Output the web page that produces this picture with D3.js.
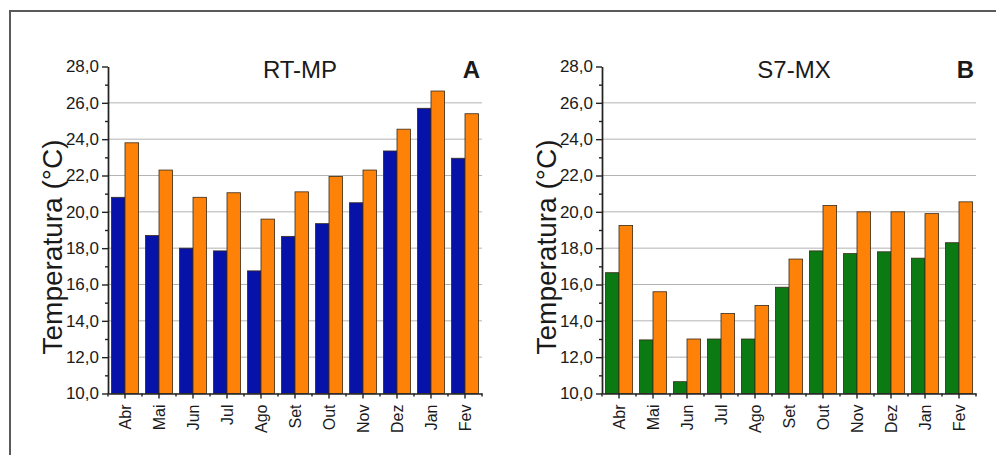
<!DOCTYPE html>
<html>
<head>
<meta charset="utf-8">
<script src="https://cdn.jsdelivr.net/npm/d3@7"></script>
<style>
  body { margin: 0; background: #fff; }
  svg text { font-family: "Liberation Sans", Arial, sans-serif; fill: #1a1a1a; }
  .axis path, .axis line { stroke: #222; stroke-width: 1.4; }
</style>
</head>
<body>
<div class="chart"></div>
<script>
var w = 996,
  h = 455;

// months on the x axis
var months = ['Abr', 'Mai', 'Jun', 'Jul', 'Ago', 'Set', 'Out', 'Nov', 'Dez', 'Jan', 'Fev'];

// RT-MP (panel A)
var rtmpLow = [20.8, 18.7, 18.0, 17.85, 16.75, 18.65, 19.35, 20.5, 23.35, 25.7, 22.95];
var rtmpHigh = [23.8, 22.3, 20.8, 21.05, 19.6, 21.1, 21.95, 22.3, 24.55, 26.65, 25.4];

// S7-MX (panel B)
var s7Low = [16.65, 12.95, 10.65, 13.0, 13.0, 15.85, 17.85, 17.7, 17.8, 17.45, 18.3];
var s7High = [19.25, 15.6, 13.0, 14.4, 14.85, 17.4, 20.35, 20.0, 20.0, 19.9, 20.55];

// y ticks
var yTicks = [10, 12, 14, 16, 18, 20, 22, 24, 26, 28];
var yMinorTicks = [11, 13, 15, 17, 19, 21, 23, 25, 27];

var orange = '#ff8208';

// portuguese number format, comma as decimal mark
var fmt = d3.formatLocale({ decimal: ',', thousands: '.', grouping: [3], currency: ['', ''] }).format('.1f');

var svg = d3.select('.chart')
  .append('svg')
  .attr('width', w)
  .attr('height', h);

// outer frame (cut at right and bottom like the figure)
svg.append('rect')
  .attr('x', 10)
  .attr('y', 11)
  .attr('width', 1000)
  .attr('height', 460)
  .attr('fill', 'none')
  .attr('stroke', '#5a5a5a')
  .attr('stroke-width', 2);

var drawPanel = function (left, title, letter, low, high, lowColor) {
  var pw = 374,
    top = 66.5,
    bottom = 393.5;

  var x = d3.scaleBand()
    .domain(months)
    .range([left, left + pw])
    .paddingInner(0.2)
    .paddingOuter(0.1);

  var xSub = d3.scaleBand()
    .domain(['low', 'high'])
    .range([0, x.bandwidth()]);

  var y = d3.scaleLinear()
    .domain([10, 28])
    .range([bottom, top]);

  var g = svg.append('g');

  // grid lines
  g.selectAll('line.grid')
    .data(yTicks.slice(1, -1))
    .enter()
    .append('line')
    .attr('class', 'grid')
    .attr('x1', left)
    .attr('x2', left + pw)
    .attr('y1', function (d) { return y(d); })
    .attr('y2', function (d) { return y(d); })
    .attr('stroke', '#b4b4b4')
    .attr('stroke-width', 1);

  var rows = months.map(function (m, i) {
    return { month: m, low: low[i], high: high[i] };
  });

  var groups = g.selectAll('g.month')
    .data(rows)
    .enter()
    .append('g')
    .attr('class', 'month')
    .attr('transform', function (d) { return 'translate(' + x(d.month) + ',0)'; });

  groups.selectAll('rect')
    .data(function (d) {
      return [{ key: 'low', v: d.low, c: lowColor }, { key: 'high', v: d.high, c: orange }];
    })
    .enter()
    .append('rect')
    .attr('x', function (d) { return xSub(d.key); })
    .attr('width', xSub.bandwidth())
    .attr('y', function (d) { return y(d.v); })
    .attr('height', function (d) { return y(10) - y(d.v); })
    .attr('fill', function (d) { return d.c; })
    .attr('stroke', '#3a2a1a')
    .attr('stroke-width', 0.8);

  // y axis, major + minor ticks
  g.append('g')
    .attr('class', 'axis')
    .attr('transform', 'translate(' + left + ',0)')
    .call(d3.axisLeft(y).tickValues(yMinorTicks).tickSize(3).tickSizeOuter(0).tickFormat(''));

  var yAxis = g.append('g')
    .attr('class', 'axis')
    .attr('transform', 'translate(' + left + ',0)')
    .call(d3.axisLeft(y).tickValues(yTicks).tickFormat(fmt).tickSize(6).tickSizeOuter(0).tickPadding(3));
  yAxis.selectAll('text')
    .style('font-size', '17px')
    .attr('fill', '#1a1a1a');

  // x axis
  var xAxis = g.append('g')
    .attr('class', 'axis')
    .attr('transform', 'translate(0,' + bottom + ')')
    .call(d3.axisBottom(x).tickSize(5).tickSizeOuter(0));
  xAxis.selectAll('text')
    .attr('transform', 'rotate(-90)')
    .attr('text-anchor', 'end')
    .attr('x', -11)
    .attr('y', 0)
    .attr('dy', '0.35em')
    .style('font-size', '16px')
    .attr('fill', '#1a1a1a');

  // small ticks between the months
  var gap = (x.step() - x.bandwidth()) / 2;
  var bounds = months.map(function (m) { return x(m) - gap; }).concat([x(months[months.length - 1]) + x.bandwidth() + gap]);
  g.selectAll('line.minor-x')
    .data(bounds)
    .enter()
    .append('line')
    .attr('class', 'minor-x')
    .attr('x1', function (d) { return d; })
    .attr('x2', function (d) { return d; })
    .attr('y1', bottom)
    .attr('y2', bottom + 3)
    .attr('stroke', '#222')
    .attr('stroke-width', 1.4);

  // y title
  g.append('text')
    .attr('transform', 'rotate(-90)')
    .attr('x', -((top + bottom) / 2 + 17))
    .attr('y', left - 46)
    .attr('text-anchor', 'middle')
    .style('font-size', '28px')
    .text('Temperatura (°C)');

  // panel title + letter
  g.append('text')
    .attr('x', left + pw / 2 + 5)
    .attr('y', 78)
    .attr('text-anchor', 'middle')
    .style('font-size', '24px')
    .text(title);

  g.append('text')
    .attr('x', left + pw - 2)
    .attr('y', 78)
    .attr('text-anchor', 'end')
    .style('font-size', '24px')
    .style('font-weight', 'bold')
    .text(letter);
}

drawPanel(108, 'RT-MP', 'A', rtmpLow, rtmpHigh, '#0712a8');
drawPanel(602, 'S7-MX', 'B', s7Low, s7High, '#0b7a12');
</script>
</body>
</html>
